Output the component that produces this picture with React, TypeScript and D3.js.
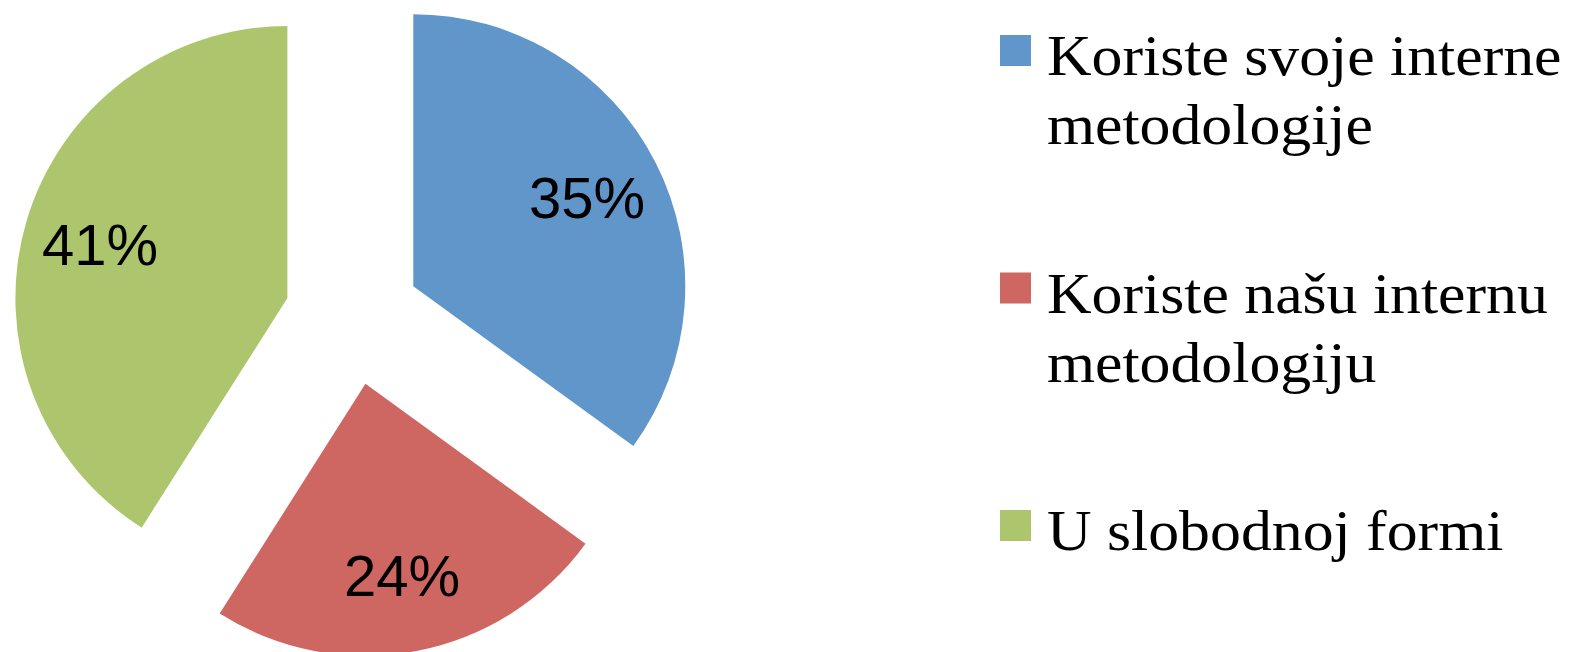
import { useMemo } from 'react';
import * as d3 from 'd3';

const categories = [
  ['Koriste svoje interne', 'metodologije'],
  ['Koriste našu internu', 'metodologiju'],
  ['U slobodnoj formi'],
];
const values = [35, 24, 41];
const labels = ['35%', '24%', '41%'];
const colors = ['#6196CA', '#CE6661', '#ADC56D'];

const WIDTH = 1571;
const HEIGHT = 652;
const cx = 352.7;
const cy = 317;
const radius = 272;
const explode = 68;
const labelDist = 195;

const lineHeight = 69;
const entryGap = 99.5;
const legendX = 1000;
const legendTextX = 1047;
const firstBaseline = 75;
const legendFont = 58;
const legendStretch = 1.065;

const App = () => {
  const slices = useMemo(() => {
    const pieGen = d3.pie<number>().sort(null).value((d) => d);
    return pieGen(values);
  }, []);

  const arcGen = d3.arc<d3.PieArcDatum<number>>().innerRadius(0).outerRadius(radius);

  let lineIdx = 0;
  const legend = categories.map((lines, i) => {
    const base = firstBaseline + lineIdx * lineHeight + i * entryGap;
    lineIdx += lines.length;
    return { lines, base, color: colors[i] };
  });

  return (
    <svg
      width={WIDTH}
      height={HEIGHT}
      style={{ position: 'absolute', left: 0, top: 0, display: 'block' }}
    >
      <rect width={WIDTH} height={HEIGHT} fill='#fff' />
      <g transform={`translate(${cx}, ${cy})`}>
        {slices.map((s, i) => {
          const mid = (s.startAngle + s.endAngle) / 2;
          const dx = Math.sin(mid);
          const dy = -Math.cos(mid);
          return (
            <g key={i} transform={`translate(${dx * explode}, ${dy * explode})`}>
              <path d={arcGen(s) || ''} fill={colors[i]} />
              <text
                x={dx * labelDist}
                y={dy * labelDist}
                dy='0.36em'
                textAnchor='middle'
                fontFamily='"Liberation Sans", Arial, sans-serif'
                fontSize={58}
                fill='#000'
              >
                {labels[i]}
              </text>
            </g>
          );
        })}
      </g>
      <g>
        {legend.map((e, i) => (
          <g key={i}>
            <rect x={legendX} y={e.base - 40} width={31} height={31} fill={e.color} />
            {e.lines.map((l, j) => (
              <text
                key={j}
                transform={`translate(${legendTextX}, ${e.base + j * lineHeight}) scale(${legendStretch}, 1)`}
                fontFamily='"Liberation Serif", "Times New Roman", serif'
                fontSize={legendFont}
                fill='#000'
              >
                {l}
              </text>
            ))}
          </g>
        ))}
      </g>
    </svg>
  );
};

export default App;
